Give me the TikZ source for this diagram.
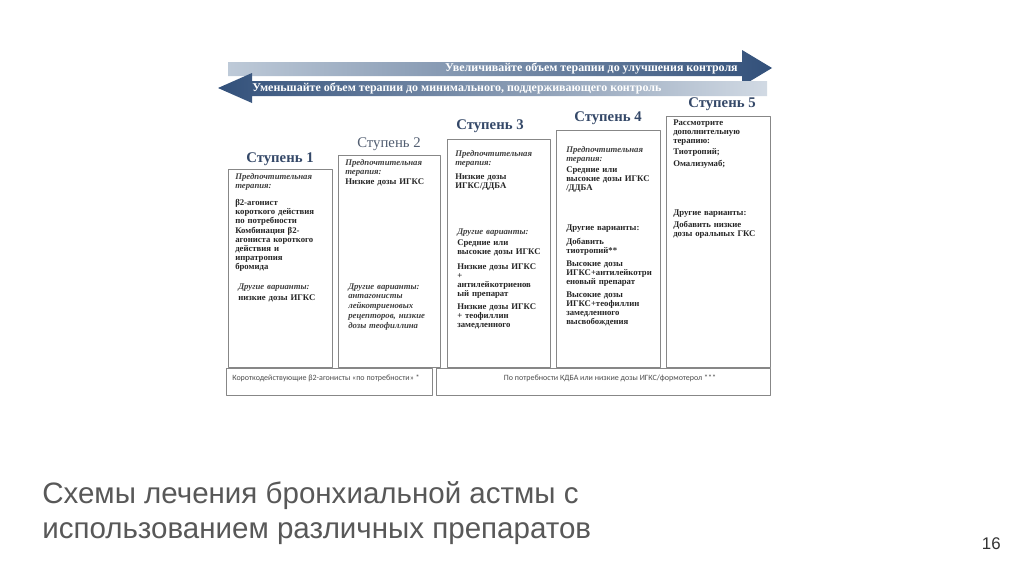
\documentclass[tikz,border=0pt]{standalone}
\usepackage{fontspec}
\setmainfont{Liberation Serif}
\newfontfamily\slidefont{Liberation Sans}
\newfontfamily\notefont{Carlito}
\definecolor{arrowdark}{RGB}{50,80,122}
\definecolor{arrowlight}{RGB}{190,202,216}
\definecolor{steptext}{RGB}{52,72,104}
\definecolor{framegray}{RGB}{135,135,135}
\definecolor{titlegray}{RGB}{88,88,88}
\begin{document}
\begin{tikzpicture}[x=0.025cm,y=-0.025cm,line join=round,
	stepbox/.style={draw=framegray,line width=0.6pt,fill=white},
	steplabel/.style={font=\fontsize{10.5}{12}\selectfont\bfseries,text=steptext,inner sep=0pt},
	cell/.style={anchor=base west,inner sep=0pt,align=left,text width=2.5cm,font=\fontsize{6.2}{6.5}\selectfont\bfseries,text=black!85},
	icell/.style={cell,font=\fontsize{6.2}{6.5}\selectfont\bfseries\itshape,text=black!75},
	arrowtext/.style={inner sep=0pt,text=white,font=\fontsize{8.5}{10}\selectfont\bfseries},
	notetext/.style={inner sep=0pt,text=black!70,font=\notefont\fontsize{5.7}{7}\selectfont},
	slidetext/.style={anchor=base west,inner sep=0pt,text=titlegray,font=\slidefont\fontsize{21}{24}\selectfont}]
	\useasboundingbox (0,0) rectangle (1024,574);
	\fill[white] (0,0) rectangle (1024,574);
	% стрелки
	\shade[left color=arrowlight,right color=arrowdark] (228,62) -- (742,62) -- (742,50) -- (772,68) -- (742,86) -- (742,76) -- (228,76) -- cycle;
	\shade[left color=arrowdark,right color=arrowlight!70!white] (218,88) -- (252,73) -- (252,81) -- (767,81) -- (767,96) -- (252,96) -- (252,103) -- cycle;
	\node[arrowtext,anchor=east] (up) at (738,69) {Увеличивайте объем терапии до улучшения контроля};
	\node[arrowtext,anchor=west] (down) at (252,88.5) {Уменьшайте объем терапии до минимального, поддерживающего контроль};
	% столбцы
	\foreach \xa/\xb/\yt in {228/332/169,338/440/155,447/550/139,556/660/130,666/770/116}{
		\draw[stepbox] (\xa,\yt) rectangle (\xb,367);
	}
	\node[steplabel] (s1) at (280,159) {Ступень 1};
	\node[steplabel,font=\fontsize{10.5}{12}\selectfont,text=steptext!60!gray] (s2) at (389,144) {Ступень 2};
	\node[steplabel] (s3) at (490,126) {Ступень 3};
	\node[steplabel] (s4) at (608,118) {Ступень 4};
	\node[steplabel] (s5) at (722,104) {Ступень 5};
	% ступень 1
	\node[icell] (p1) at (235,179) {Предпочтительная\\терапия:};
	\node[cell] (p1a) at (235,205) {β2-агонист\\короткого действия\\по потребности};
	\node[cell] (p1b) at (235,233) {Комбинация β2-\\агониста короткого\\действия и\\ипратропия\\бромида};
	\node[icell] (o1) at (238,289) {Другие варианты:};
	\node[cell] (o1a) at (238,300) {низкие дозы ИГКС};
	% ступень 2
	\node[icell] (p2) at (345,165) {Предпочтительная\\терапия:};
	\node[cell] (p2a) at (345,184) {Низкие дозы ИГКС};
	\node[icell,font=\fontsize{6.2}{7.1}\selectfont\bfseries\itshape] (o2) at (348,289) {Другие варианты:\\антагонисты\\лейкотриеновых\\рецепторов, низкие\\дозы теофиллина};
	% ступень 3
	\node[icell] (p3) at (455,156) {Предпочтительная\\терапия:};
	\node[cell] (p3a) at (455,179) {Низкие дозы\\ИГКС/ДДБА};
	\node[icell] (o3) at (457,234) {Другие варианты:};
	\node[cell] (o3a) at (457,245) {Средние или\\высокие дозы ИГКС};
	\node[cell] (o3b) at (457,269) {Низкие дозы ИГКС\\+\\антилейкотриенов\\ый препарат};
	\node[cell] (o3c) at (457,309) {Низкие дозы ИГКС\\+ теофиллин\\замедленного};
	% ступень 4
	\node[icell] (p4) at (566,152) {Предпочтительная\\терапия:};
	\node[cell] (p4a) at (566,172) {Средние или\\высокие дозы ИГКС\\/ДДБА};
	\node[cell] (o4) at (566,230) {Другие варианты:};
	\node[cell] (o4a) at (566,244) {Добавить\\тиотропий**};
	\node[cell] (o4b) at (566,266) {Высокие дозы\\ИГКС+антилейкотри\\еновый препарат};
	\node[cell] (o4c) at (566,297) {Высокие дозы\\ИГКС+теофиллин\\замедленного\\высвобождения};
	% ступень 5
	\node[cell] (p5) at (673,125) {Рассмотрите\\дополнительную\\терапию:};
	\node[cell] (p5a) at (673,154) {Тиотропий;};
	\node[cell] (p5b) at (673,166) {Омализумаб;};
	\node[cell] (o5) at (673,215) {Другие варианты:};
	\node[cell] (o5a) at (673,227) {Добавить низкие\\дозы оральных ГКС};
	% нижняя строка
	\draw[stepbox] (226,368) rectangle (432,395);
	\draw[stepbox] (436,368) rectangle (770,395);
	\node[notetext,anchor=west] (n1) at (232,378) {Короткодействующие β2-агонисты «по потребности» *};
	\node[notetext] (n2) at (610,378) {По потребности КДБА или низкие дозы ИГКС/формотерол ***};
	% подпись слайда
	\node[slidetext] (title1) at (42,503) {Схемы лечения бронхиальной астмы с};
	\node[slidetext] (title2) at (42,538) {использованием различных препаратов};
	\node[anchor=base east,inner sep=0pt,text=black!80,font=\slidefont\fontsize{12}{14}\selectfont] (page) at (1001,549) {16};
\end{tikzpicture}
\end{document}
